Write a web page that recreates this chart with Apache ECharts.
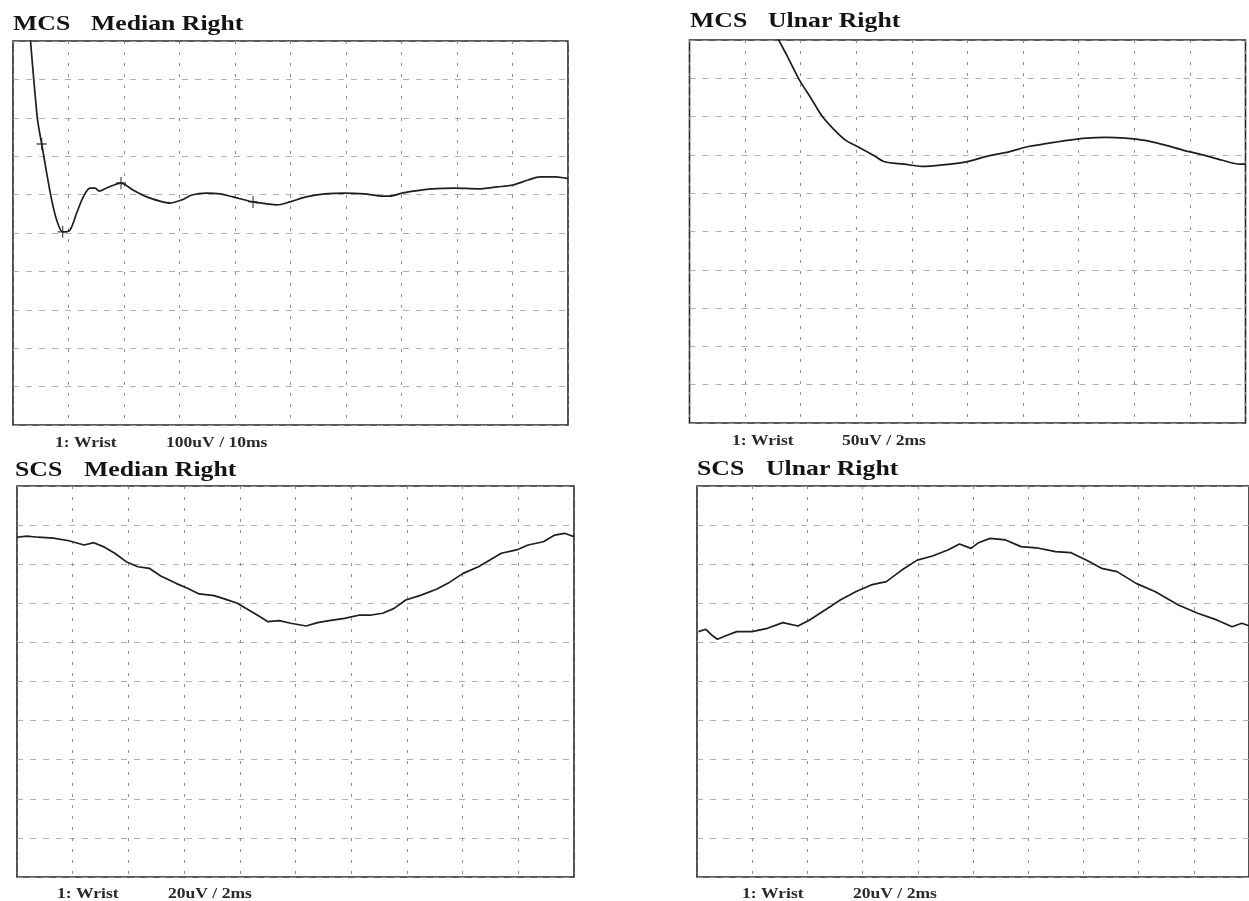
<!DOCTYPE html>
<html>
<head>
<meta charset="utf-8">
<script src="https://cdn.jsdelivr.net/npm/echarts@6/dist/echarts.min.js"></script>
<style>
html,body{margin:0;padding:0;background:#fff;}
#chart{width:1249px;height:901px;}
</style>
</head>
<body>
<div id="chart"></div>
<script>
// ---- Panel titles & annotations ----
var titlePrefix = ['MCS', 'MCS', 'SCS', 'SCS'];
var titleNerve = ['Median Right', 'Ulnar Right', 'Median Right', 'Ulnar Right'];
var siteLabel = ['1: Wrist', '1: Wrist', '1: Wrist', '1: Wrist'];
var scaleLabel = ['100uV / 10ms', '50uV / 2ms', '20uV / 2ms', '20uV / 2ms'];

// ---- Axis ranges (ms, uV) ----
var xMax = [100, 20, 20, 20];
var xDiv = [10, 2, 2, 2];
var yHalf = [500, 250, 100, 100];
var yDiv = [100, 50, 20, 20];

// ---- Traces: [ms, uV] ----
var mcsMedian = [
  [2.83,560],[4.38,300],[5.17,232],[6.07,156],[6.97,86],[7.87,34],[8.95,3],[10.27,8],
  [11.47,52],[12.67,94],[13.87,117],[14.77,117],[15.55,109],[16.88,117],[19.46,130],
  [21.62,112],[24.09,94],[26.49,83],[28.29,78],[30.40,86],[32.20,99],[34.90,104],
  [37.30,102],[39.64,94],[43.24,81],[45.71,76],[47.51,73],[49.91,81],[52.79,94],
  [56.22,102],[59.64,104],[63.24,102],[66.67,96],[67.93,96],[70.09,104],[72.07,109],
  [75.50,115],[79.64,117],[83.78,115],[87.21,120],[90.09,125],[92.79,138],[95.0,146],
  [97.66,146],[99.64,143],[100,142]
];
var mcsMedianMarks = [[5.17,232],[8.95,3],[19.46,130],[43.24,81]];

var mcsUlnar = [
  [3.05,262],[3.18,252],[3.53,228],[3.95,198],[4.37,174],[4.78,150],[5.20,133],[5.62,119],
  [6.04,111],[6.60,100],[7.02,91],[7.72,88],[8.35,85],[9.11,87],[9.95,91],[10.79,99],
  [11.49,104],[12.19,111],[12.89,115],[13.59,119],[14.28,122],[14.98,123],[15.68,122],
  [16.38,119],[17.08,113],[17.78,106],[18.47,100],[19.17,93],[19.80,88],[20,88]
];

var scsMedian = [
  [0,73.8],[0.35,74.4],[0.76,73.8],[1.31,73.3],[1.86,72.0],[2.41,69.8],[2.76,71.0],
  [3.10,69.0],[3.51,65.6],[3.92,61.3],[4.34,58.7],[4.75,57.9],[5.16,54.0],[5.71,50.2],
  [6.12,47.7],[6.54,44.8],[7.08,43.9],[7.50,42.0],[7.91,40.0],[8.32,36.6],[8.73,33.1],
  [9.01,30.6],[9.42,31.1],[9.83,29.8],[10.38,28.4],[10.79,30.1],[11.21,31.1],[11.76,32.3],
  [12.31,34.0],[12.72,34.0],[13.13,34.9],[13.54,37.4],[13.96,41.7],[14.51,44.2],
  [15.06,47.2],[15.47,50.2],[16.02,55.3],[16.57,58.7],[16.98,62.1],[17.39,65.6],
  [17.94,67.3],[18.35,69.8],[18.90,71.5],[19.31,74.9],[19.66,75.8],[19.93,74.4],[20,74.4]
];

var scsUlnar = [
  [0.05,25.5],[0.32,26.7],[0.53,23.8],[0.74,21.6],[1.02,23.3],[1.44,25.5],[1.99,25.5],
  [2.55,27.2],[3.11,30.1],[3.66,28.4],[4.08,31.5],[4.64,36.6],[5.19,41.7],[5.75,45.9],
  [6.31,49.4],[6.86,51.1],[7.42,57.0],[7.98,62.1],[8.53,64.2],[9.09,67.3],[9.51,70.3],
  [9.93,68.1],[10.20,71.0],[10.62,73.2],[11.18,72.4],[11.74,69.0],[12.29,68.4],
  [12.99,66.4],[13.55,65.9],[14.10,62.1],[14.66,57.9],[15.22,56.2],[15.91,50.2],
  [16.61,45.9],[17.44,39.1],[18.14,34.9],[18.83,31.5],[19.39,28.0],[19.74,29.8],[20,28.5]
];

var traces = [mcsMedian, mcsUlnar, scsMedian, scsUlnar];
var smoothing = [0.3, 0.3, false, false];

// ---- Layout (pixels) ----
var boxes = [
  {left:13, top:41, width:555, height:384},
  {left:689.5, top:40, width:556, height:383},
  {left:17, top:486, width:557, height:391},
  {left:697, top:486, width:558, height:391}
];
var titleSpots = [[13,91,31],[690,768,28],[15,84,477],[697,766,476]];
var labelSpots = [[55,166,448],[732,842,446],[57,168,899],[742,853,899]];

var grids = [], xAxes = [], yAxes = [], series = [], graphics = [];
boxes.forEach(function(b, i){
  grids.push({left:b.left, top:b.top, width:b.width, height:b.height,
    show:true, borderColor:'#262626', borderWidth:1.6, backgroundColor:'transparent'});
  xAxes.push({type:'value', gridIndex:i, min:0, max:xMax[i], interval:xDiv[i],
    axisLine:{show:false}, axisTick:{show:false}, axisLabel:{show:false},
    splitLine:{show:true, lineStyle:{color:'#7d7d7d', width:1, type:[3,8], opacity:0.85}}});
  yAxes.push({type:'value', gridIndex:i, min:-yHalf[i], max:yHalf[i], interval:yDiv[i],
    axisLine:{show:false}, axisTick:{show:false}, axisLabel:{show:false},
    splitLine:{show:true, lineStyle:{color:'#8fa3aa', width:1, type:[6,7], opacity:0.8}}});
  series.push({type:'line', xAxisIndex:i, yAxisIndex:i, data:traces[i], symbol:'none',
    smooth:smoothing[i], clip:true, lineStyle:{color:'#1e1e1e', width:1.7}, animation:false, z:5});

  var t = titleSpots[i], l = labelSpots[i];
  var tf = 'bold 22px "Liberation Serif", "Times New Roman", serif';
  var lf = 'bold 15px "Liberation Serif", "Times New Roman", serif';
  graphics.push({type:'text', x:t[0], y:t[2]-7, scaleX:1.17,
    style:{text:titlePrefix[i], font:tf, fill:'#141414', verticalAlign:'middle', textVerticalAlign:'middle'}});
  graphics.push({type:'text', x:t[1], y:t[2]-7, scaleX:1.17,
    style:{text:titleNerve[i], font:tf, fill:'#141414', verticalAlign:'middle', textVerticalAlign:'middle'}});
  graphics.push({type:'text', x:l[0], y:l[2]-5, scaleX:1.17,
    style:{text:siteLabel[i], font:lf, fill:'#2a2a2a', verticalAlign:'middle', textVerticalAlign:'middle'}});
  graphics.push({type:'text', x:l[1], y:l[2]-5, scaleX:1.17,
    style:{text:scaleLabel[i], font:lf, fill:'#2a2a2a', verticalAlign:'middle', textVerticalAlign:'middle'}});
});

series.push({type:'scatter', xAxisIndex:0, yAxisIndex:0, data:mcsMedianMarks,
  symbol:'path://M0,4.4H10V5.6H0Z M4.4,0H5.6V10H4.4Z', symbolSize:[10,12],
  itemStyle:{color:'#1e1e1e'}, animation:false, z:6});

var chart = echarts.init(document.getElementById('chart'), null, {renderer:'canvas'});
chart.setOption({
  animation:false,
  backgroundColor:'#ffffff',
  grid:grids, xAxis:xAxes, yAxis:yAxes, series:series, graphic:graphics
});
</script>
</body>
</html>
